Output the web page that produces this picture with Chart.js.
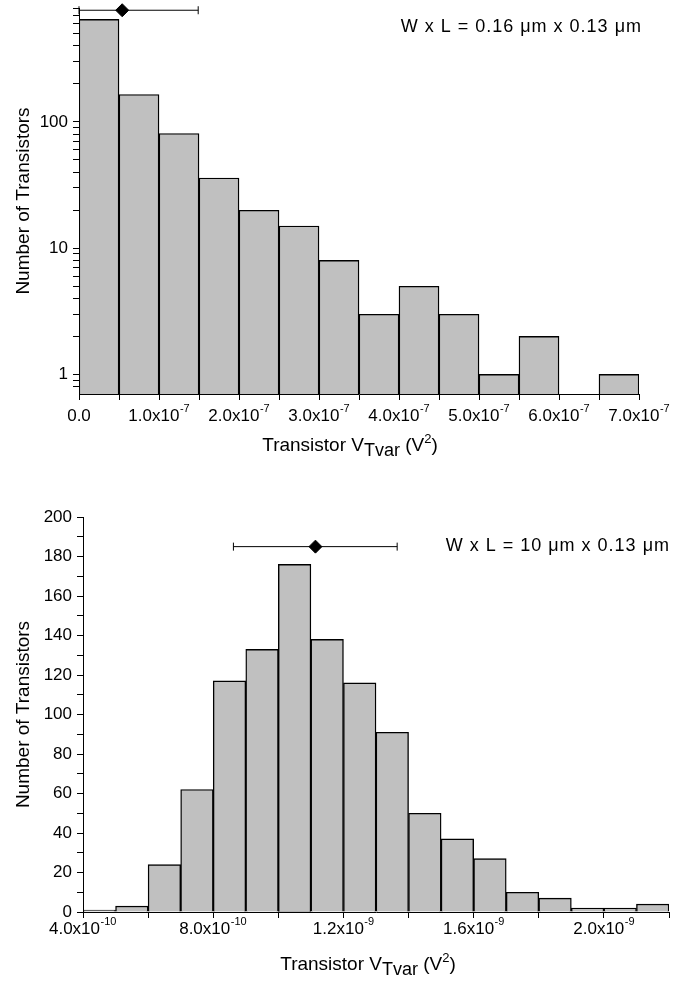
<!DOCTYPE html>
<html><head><meta charset="utf-8">
<script src="https://cdn.jsdelivr.net/npm/chart.js@4.4.0/dist/chart.umd.min.js"></script>
<style>
html,body{margin:0;padding:0;background:#fff;}
#wrap{position:relative;width:689px;height:981px;overflow:hidden;}
#c1wrap{position:absolute;left:0;top:0;width:689px;height:460px;}
#c2wrap{position:absolute;left:0;top:460px;width:689px;height:521px;}
</style></head><body>
<div id="wrap"><div id="c1wrap"><canvas id="c1"></canvas></div><div id="c2wrap"><canvas id="c2"></canvas></div></div>
<script>
// ---------- Top panel (W x L = 0.16 um x 0.13 um), log y ----------
const topBinCenters = [2.5e-8, 7.5e-8, 1.25e-7, 1.75e-7, 2.25e-7, 2.75e-7, 3.25e-7, 3.75e-7, 4.25e-7, 4.75e-7, 5.25e-7, 5.75e-7, 6.25e-7, 6.75e-7];
const topCounts = [650, 165, 81, 36, 20, 15, 8, 3, 5, 3, 1, 2, null, 1];
const topXTicks = [0, 5e-8, 1e-7, 1.5e-7, 2e-7, 2.5e-7, 3e-7, 3.5e-7, 4e-7, 4.5e-7, 5e-7, 5.5e-7, 6e-7, 6.5e-7, 7e-7];
const topXTickBase = ['0.0', '', '1.0x10', '', '2.0x10', '', '3.0x10', '', '4.0x10', '', '5.0x10', '', '6.0x10', '', '7.0x10'];
const topXTickExp  = ['', '', '-7', '', '-7', '', '-7', '', '-7', '', '-7', '', '-7', '', '-7'];
const topYTicks = [0.8, 0.9, 1, 2, 3, 4, 5, 6, 7, 8, 9, 10, 20, 30, 40, 50, 60, 70, 80, 90, 100, 200, 300, 400, 500, 600, 700, 800];
const topYLabeled = [1, 10, 100];
const topErrX = [0, 5.4e-8, 1.49e-7];   // lower end, mean, upper end
const topErrY = 768;
const topNote = 'W x L = 0.16 μm x 0.13 μm';

// ---------- Bottom panel (W x L = 10 um x 0.13 um), linear y ----------
const botBinCenters = [4.5e-10, 5.5e-10, 6.5e-10, 7.5e-10, 8.5e-10, 9.5e-10, 1.05e-9, 1.15e-9, 1.25e-9, 1.35e-9, 1.45e-9, 1.55e-9, 1.65e-9, 1.75e-9, 1.85e-9, 1.95e-9, 2.05e-9, 2.15e-9];
const botCounts = [1, 3, 24, 62, 117, 133, 176, 138, 116, 91, 50, 37, 27, 10, 7, 2, 2, 4];
const botXTicks = [4e-10, 6e-10, 8e-10, 1e-9, 1.2e-9, 1.4e-9, 1.6e-9, 1.8e-9, 2e-9, 2.2e-9];
const botXTickBase = ['4.0x10', '', '8.0x10', '', '1.2x10', '', '1.6x10', '', '2.0x10', ''];
const botXTickExp  = ['-10', '', '-10', '', '-9', '', '-9', '', '-9', ''];
const botYTicks = [0, 10, 20, 30, 40, 50, 60, 70, 80, 90, 100, 110, 120, 130, 140, 150, 160, 170, 180, 190, 200];
const botYLabeled = [0, 20, 40, 60, 80, 100, 120, 140, 160, 180, 200];
const botErrX = [8.62e-10, 1.114e-9, 1.365e-9];
const botErrY = 185;
const botNote = 'W x L = 10 μm x 0.13 μm';

const yTitle = 'Number of Transistors';
const FONT = "'Liberation Sans', Arial, Helvetica, sans-serif";
const TICK_SIZE = 17, EXP_SIZE = 11;
const THIN = '\u2009';

// placeholder of thin spaces so that the library centres "base + exponent" on the tick
const measCtx = document.createElement('canvas').getContext('2d');
function placeholder(exp) {
  if (!exp) return '';
  measCtx.font = EXP_SIZE + 'px ' + FONT;
  const ew = measCtx.measureText(exp).width + 1;
  measCtx.font = TICK_SIZE + 'px ' + FONT;
  const sw = measCtx.measureText(THIN).width || 3;
  return THIN.repeat(Math.max(1, Math.round(ew / sw)));
}

const annotPlugin = {
  id: 'annot',
  afterDraw(chart, args, o) {
    const ctx = chart.ctx;
    ctx.save();
    ctx.fillStyle = '#000';
    // exponents of x tick labels
    const xs = chart.scales.x;
    const tickLen = xs.options.grid.tickLength;
    const pad = xs.options.ticks.padding;
    const mid = xs.top + tickLen + pad + TICK_SIZE * 1.2 / 2;
    ctx.textBaseline = 'middle';
    ctx.textAlign = 'left';
    o.xTicks.forEach((v, i) => {
      if (!o.exp[i]) return;
      ctx.font = TICK_SIZE + 'px ' + FONT;
      const full = o.base[i] + placeholder(o.exp[i]);
      const W = ctx.measureText(full).width;
      const bw = ctx.measureText(o.base[i]).width;
      const cx = xs.getPixelForValue(v);
      ctx.font = EXP_SIZE + 'px ' + FONT;
      ctx.fillText(o.exp[i], cx - W / 2 + bw + 0.5, mid - 7);
    });
    // annotation note
    ctx.textAlign = 'right';
    ctx.font = o.noteSize + 'px ' + FONT;
    try { ctx.letterSpacing = '1px'; } catch (e) {}
    ctx.fillText(o.note, o.noteX, o.noteY);
    try { ctx.letterSpacing = '0px'; } catch (e) {}
    // x axis title with subscript / superscript
    const parts = [
      {t: 'Transistor V', s: 19, dy: 0},
      {t: 'Tvar', s: 18, dy: 5},
      {t: ' (V', s: 19, dy: 0},
      {t: '2', s: 13, dy: -8},
      {t: ')', s: 19, dy: 0}
    ];
    ctx.textBaseline = 'alphabetic';
    ctx.textAlign = 'left';
    let total = 0;
    parts.forEach(p => { ctx.font = p.s + 'px ' + FONT; p.w = ctx.measureText(p.t).width; total += p.w; });
    let x = o.titleCX - total / 2;
    parts.forEach(p => { ctx.font = p.s + 'px ' + FONT; ctx.fillText(p.t, x, o.titleY + p.dy); x += p.w; });
    ctx.restore();
  }
};

function makeChart(id, cfg) {
  const isLog = cfg.log;
  return new Chart(document.getElementById(id), {
    type: 'bar',
    data: {
      datasets: [
        {
          type: 'line',
          data: cfg.errX.map(v => ({x: v, y: cfg.errY})),
          borderColor: '#000', borderWidth: 1,
          pointStyle: ['line', 'rectRot', 'line'],
          pointRadius: [4, 6.5, 4],
          pointRotation: [90, 0, 90],
          pointBackgroundColor: '#000', pointBorderColor: '#000', pointBorderWidth: 1,
          clip: false, order: 0
        },
        {
          type: 'bar',
          data: cfg.centers.map((c, i) => ({x: c, y: cfg.counts[i]})),
          backgroundColor: '#c0c0c0', borderColor: '#000', borderWidth: 1.4,
          barPercentage: 1, categoryPercentage: 1, order: 1
        }
      ]
    },
    options: {
      responsive: true, maintainAspectRatio: false, animation: false,
      layout: {padding: {left: 0, right: cfg.padRight, top: cfg.padTop, bottom: 0}},
      plugins: {legend: {display: false}, tooltip: {enabled: false},
        annot: {note: cfg.note, noteX: cfg.noteX, noteY: cfg.noteY, noteSize: 18, titleCX: cfg.titleCX, titleY: cfg.titleY,
          xTicks: cfg.xTicks, base: cfg.xBase, exp: cfg.xExp}},
      scales: {
        x: {
          type: 'linear', offset: false, min: cfg.xTicks[0], max: cfg.xTicks[cfg.xTicks.length - 1],
          afterBuildTicks: s => { s.ticks = cfg.xTicks.map(v => ({value: v})); },
          afterFit: s => { s.height = cfg.xAxisH; s.paddingLeft = 0; s.paddingRight = 0; },
          ticks: {autoSkip: false, maxRotation: 0, minRotation: 0, padding: cfg.xPad, color: '#000',
            font: {family: FONT, size: TICK_SIZE}, callback: (v, i) => cfg.xBase[i] + placeholder(cfg.xExp[i])},
          grid: {offset: false, drawOnChartArea: false, drawTicks: true, tickLength: 6, tickColor: '#000', tickWidth: 1},
          border: {display: true, color: '#000', width: 1}
        },
        y: {
          type: isLog ? 'logarithmic' : 'linear', min: cfg.yMin, max: cfg.yMax,
          afterBuildTicks: s => { s.ticks = cfg.yTicks.map(v => ({value: v})); },
          afterFit: s => { s.width = cfg.yAxisW; s.paddingTop = 0; s.paddingBottom = 0; },
          ticks: {autoSkip: false, padding: 5, color: '#000', font: {family: FONT, size: TICK_SIZE},
            callback: v => cfg.yLabeled.includes(v) ? String(v) : ''},
          grid: {drawOnChartArea: false, drawTicks: true, tickLength: 6, tickColor: '#000', tickWidth: 1},
          border: {display: true, color: '#000', width: 1},
          title: {display: true, text: yTitle, color: '#000', font: {family: FONT, size: 19}, padding: {top: 12, bottom: 0}}
        }
      }
    },
    plugins: [annotPlugin]
  });
}

makeChart('c1', {
  log: true, centers: topBinCenters, counts: topCounts, errX: topErrX, errY: topErrY,
  xTicks: topXTicks, xBase: topXTickBase, xExp: topXTickExp, yTicks: topYTicks, yLabeled: topYLabeled,
  yMin: 0.7, yMax: 800, padRight: 50, padTop: 8, xAxisH: 66, yAxisW: 79, xPad: 6,
  note: topNote, noteX: 642, noteY: 27, titleCX: 350, titleY: 451
});
makeChart('c2', {
  log: false, centers: botBinCenters, counts: botCounts, errX: botErrX, errY: botErrY,
  xTicks: botXTicks, xBase: botXTickBase, xExp: botXTickExp, yTicks: botYTicks, yLabeled: botYLabeled,
  yMin: 0, yMax: 200, padRight: 20, padTop: 57, xAxisH: 69, yAxisW: 83, xPad: 1,
  note: botNote, noteX: 670, noteY: 86, titleCX: 368, titleY: 510
});
</script>
</body></html>
